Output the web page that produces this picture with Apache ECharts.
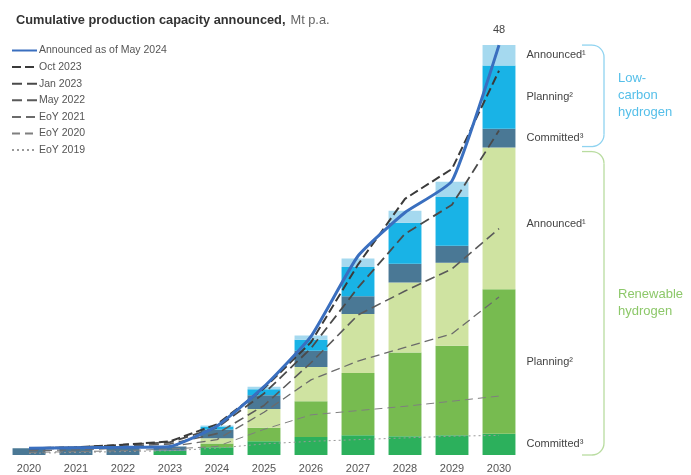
<!DOCTYPE html>
<html>
<head>
<meta charset="utf-8">
<script src="https://cdn.jsdelivr.net/npm/echarts@6/dist/echarts.min.js"></script>
<style>
  html, body { margin: 0; padding: 0; background: #ffffff; }
  #chart { width: 691px; height: 475px; }
</style>
</head>
<body>
<div id="chart"></div>
<script>
// Categories
const years = ['2020', '2021', '2022', '2023', '2024', '2025', '2026', '2027', '2028', '2029', '2030'];

// Stacked capacity by status, Mt p.a. (May 2024)
const renewableCommitted = [0, 0, 0, 0.5, 0.9, 1.6, 2.1, 2.3, 2.2, 2.3, 2.5];
const renewablePlanning  = [0, 0, 0, 0, 0.45, 1.6, 4.2, 7.3, 9.8, 10.5, 16.9];
const renewableAnnounced = [0, 0, 0, 0, 0.6, 2.2, 4.0, 6.9, 8.2, 9.7, 16.6];
const lowCarbonCommitted = [0.8, 0.85, 0.9, 0.5, 1.05, 1.6, 1.9, 2.1, 2.2, 2.0, 2.2];
const lowCarbonPlanning  = [0, 0, 0, 0, 0.35, 0.7, 1.3, 3.4, 4.8, 5.7, 7.4];
const lowCarbonAnnounced = [0, 0, 0, 0, 0.1, 0.3, 0.5, 1.0, 1.4, 1.8, 2.4];

// Cumulative totals announced at each edition
const may2024 = [0.8, 0.85, 0.9, 1.0, 3.4, 8.0, 13.9, 23.3, 28.4, 32.1, 48];
const oct2023 = [0.8, 0.9, 1.2, 1.6, 3.6, 7.8, 13.2, 22.3, 30.0, 33.5, 45];
const jan2023 = [0.8, 0.9, 1.2, 1.5, 3.2, 7.2, 12.5, 19.6, 25.9, 29.3, 38];
const may2022 = [0.7, 0.8, 1.0, 1.3, 2.5, 5.8, 10.8, 16.4, 19.2, 21.8, 26.5];
const eoy2021 = [0.5, 0.6, 0.8, 1.0, 1.8, 5.0, 8.8, 11.0, 12.6, 14.2, 18.5];
const eoy2020 = [0.3, 0.4, 0.5, 0.7, 1.0, 3.0, 4.7, 5.2, 5.7, 6.3, 6.9];
const eoy2019 = [0.2, 0.3, 0.4, 0.5, 0.8, 1.3, 1.6, 1.8, 2.0, 2.2, 2.3];

// Segment names shown beside the last bar
const segmentLabels = ['Committed³', 'Planning²', 'Announced¹', 'Committed³', 'Planning²', 'Announced¹'];

const FONT = 'Liberation Sans, Arial, Helvetica, sans-serif';
const chart = echarts.init(document.getElementById('chart'));

function barSeries(name, values, color, labelText, labelOffsetY) {
  const last = values.length - 1;
  return {
    name: name,
    type: 'bar',
    stack: 'capacity',
    barWidth: '70%',
    z: 2,
    itemStyle: { color: color },
    emphasis: { disabled: true },
    data: values.map((v, i) => i === last ? {
      value: v,
      label: {
        show: true,
        position: 'right',
        distance: 11,
        offset: [0, labelOffsetY || 0],
        formatter: labelText,
        color: '#444',
        fontSize: 11,
        fontFamily: FONT
      }
    } : v)
  };
}

function lineSeries(name, values, color, width, dash, z) {
  return {
    name: name,
    type: 'line',
    symbol: 'none',
    z: z,
    lineStyle: { color: color, width: width, type: dash },
    itemStyle: { color: color },
    emphasis: { disabled: true },
    data: values
  };
}

// Latest edition: solid blue, with its 2030 total written above the end point
const blueLine = lineSeries('Announced as of May 2024', may2024, '#3a6fbf', 3, 'solid', 5);
blueLine.smooth = 0.15;
blueLine.symbol = 'circle';
blueLine.symbolSize = 0;
blueLine.showSymbol = true;
blueLine.data = may2024.map((v, i) => i === may2024.length - 1 ? {
  value: v,
  label: { show: true, position: 'top', distance: 10, formatter: String(v), color: '#444', fontSize: 11, fontFamily: FONT }
} : v);

const option = {
  animation: false,
  title: {
    left: 11,
    top: 6,
    text: '{b|Cumulative production capacity announced,} {n|Mt p.a.}',
    textStyle: {
      rich: {
        b: { fontFamily: FONT, fontSize: 12.8, fontWeight: 'bold', color: '#333' },
        n: { fontFamily: FONT, fontSize: 12.8, fontWeight: 'normal', color: '#666' }
      }
    }
  },
  legend: {
    orient: 'vertical',
    left: 11,
    top: 44,
    padding: 0,
    itemWidth: 25,
    itemHeight: 12,
    itemGap: 3.6,
    selectedMode: false,
    itemStyle: { opacity: 0 },
    textStyle: { fontFamily: FONT, fontSize: 10.5, color: '#555', lineHeight: 13, padding: [0, 0, 0, -3] },
    data: ['Announced as of May 2024', 'Oct 2023', 'Jan 2023', 'May 2022', 'EoY 2021', 'EoY 2020', 'EoY 2019']
  },
  grid: { left: 5.5, width: 517, top: 28, bottom: 20 },
  xAxis: {
    type: 'category',
    data: years,
    axisTick: { show: false },
    axisLine: { show: false },
    axisLabel: { color: '#555', fontSize: 11, fontFamily: FONT, margin: 8 }
  },
  yAxis: {
    type: 'value',
    min: 0,
    max: 50,
    show: false,
    splitLine: { show: false }
  },
  series: [
    barSeries('Renewable committed', renewableCommitted, '#2cb05c', segmentLabels[0]),
    barSeries('Renewable planning', renewablePlanning, '#77bb50', segmentLabels[1]),
    barSeries('Renewable announced', renewableAnnounced, '#cfe3a1', segmentLabels[2], 6),
    barSeries('Low-carbon committed', lowCarbonCommitted, '#4a7895', segmentLabels[3]),
    barSeries('Low-carbon planning', lowCarbonPlanning, '#19b3e6', segmentLabels[4]),
    barSeries('Low-carbon announced', lowCarbonAnnounced, '#a5d9ef', segmentLabels[5]),
    lineSeries('EoY 2019', eoy2019, '#9a9a9a', 1, [2, 3], 3),
    lineSeries('EoY 2020', eoy2020, '#7f7f7f', 1, [8, 5], 3),
    lineSeries('EoY 2021', eoy2021, '#6b6b6b', 1.3, [9, 5], 3),
    lineSeries('May 2022', may2022, '#5a5a5a', 1.6, [10, 5], 3),
    lineSeries('Jan 2023', jan2023, '#4a4a4a', 1.8, [10, 5], 3),
    lineSeries('Oct 2023', oct2023, '#3a3a3a', 2, [9, 4], 3),
    blueLine
  ]
};
chart.setOption(option);

// Group brackets spanning the stacked segments of the last bar
function sum(arrs, i) { return arrs.reduce((s, a) => s + a[i], 0); }
const li = years.length - 1;
const renewTop = sum([renewableCommitted, renewablePlanning, renewableAnnounced], li);
const lowTop = renewTop + sum([lowCarbonCommitted, lowCarbonPlanning, lowCarbonAnnounced], li);
const pBase = chart.convertToPixel({ gridIndex: 0 }, [li, 0]);
const pRenew = chart.convertToPixel({ gridIndex: 0 }, [li, renewTop]);
const pLow = chart.convertToPixel({ gridIndex: 0 }, [li, lowTop]);

const bx0 = pBase[0] + 83;   // bracket open end
const bx1 = pBase[0] + 105;  // bracket spine
const r = 12;

function bracket(yTop, yBot, color) {
  const st = { stroke: color, lineWidth: 1.3, fill: null };
  return [
    { type: 'line', silent: true, shape: { x1: bx0, y1: yTop, x2: bx1 - r, y2: yTop }, style: st },
    { type: 'arc', silent: true, shape: { cx: bx1 - r, cy: yTop + r, r: r, startAngle: -Math.PI / 2, endAngle: 0, clockwise: true }, style: st },
    { type: 'line', silent: true, shape: { x1: bx1, y1: yTop + r, x2: bx1, y2: yBot - r }, style: st },
    { type: 'arc', silent: true, shape: { cx: bx1 - r, cy: yBot - r, r: r, startAngle: 0, endAngle: Math.PI / 2, clockwise: true }, style: st },
    { type: 'line', silent: true, shape: { x1: bx1 - r, y1: yBot, x2: bx0, y2: yBot }, style: st }
  ];
}

const lowTopY = pLow[1];
const lowBotY = pRenew[1] - 1;
const renTopY = pRenew[1] + 4;
const renBotY = pBase[1];

chart.setOption({
  graphic: [].concat(
    bracket(lowTopY, lowBotY, '#8fd3f0'),
    bracket(renTopY, renBotY, '#b9dca0'),
    [
      {
        type: 'text', silent: true,
        x: bx1 + 14, y: (lowTopY + lowBotY) / 2,
        style: {
          text: 'Low-\ncarbon\nhydrogen', fill: '#55bfe9', fontSize: 13, lineHeight: 17,
          fontFamily: FONT, verticalAlign: 'middle', align: 'left'
        }
      },
      {
        type: 'text', silent: true,
        x: bx1 + 14, y: (renTopY + renBotY) / 2,
        style: {
          text: 'Renewable\nhydrogen', fill: '#8dc86a', fontSize: 13, lineHeight: 17,
          fontFamily: FONT, verticalAlign: 'middle', align: 'left'
        }
      }
    ]
  )
});
</script>
</body>
</html>
